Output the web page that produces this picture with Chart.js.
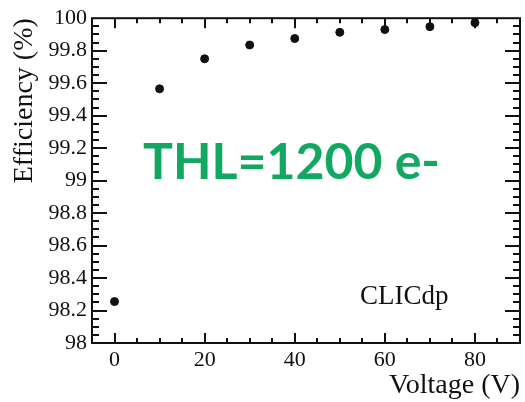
<!DOCTYPE html>
<html>
<head>
<meta charset="utf-8">
<script src="https://cdn.jsdelivr.net/npm/chart.js@4/dist/chart.umd.min.js"></script>
<style>
  html, body { margin: 0; padding: 0; background: #fff; }
  #wrap { width: 525px; height: 402px; }
</style>
</head>
<body>
<div id="wrap"><canvas id="chart" width="525" height="402"></canvas></div>
<script>
// data
const voltages = [0, 10, 20, 30, 40, 50, 60, 70, 80];
const efficiency = [98.255, 99.565, 99.75, 99.835, 99.875, 99.913, 99.93, 99.948, 99.972];
const xTicks = [0, 20, 40, 60, 80];
const yTicks = [98, 98.2, 98.4, 98.6, 98.8, 99, 99.2, 99.4, 99.6, 99.8, 100];
const yTickLabels = ['98', '98.2', '98.4', '98.6', '98.8', '99', '99.2', '99.4', '99.6', '99.8', '100'];

const ink = '#111';
const serif = "'Liberation Serif', 'DejaVu Serif', serif";
Chart.defaults.font.family = serif;
Chart.defaults.color = ink;

// frame with inward ticks on all four sides, plus the text labels
const framePlugin = {
  id: 'frame',
  afterDraw(chart) {
    const c = chart.ctx, a = chart.chartArea;
    const xs = chart.scales.x, ys = chart.scales.y;
    c.save();
    c.strokeStyle = ink;
    c.lineWidth = 2;
    c.strokeRect(a.left, a.top, a.right - a.left, a.bottom - a.top);
    c.beginPath();
    for (let v = -5; v <= 90; v += 5) {
      const px = Math.round(xs.getPixelForValue(v));
      if (px <= a.left + 1 || px >= a.right - 1) continue;
      const len = v % 20 === 0 ? 10 : 5;
      c.moveTo(px, a.bottom); c.lineTo(px, a.bottom - len);
      c.moveTo(px, a.top); c.lineTo(px, a.top + len);
    }
    for (let i = 1; i < 40; i++) {
      const v = 98 + i * 0.05;
      const py = Math.round(ys.getPixelForValue(v));
      const len = i % 4 === 0 ? 15 : 7;
      c.moveTo(a.left, py); c.lineTo(a.left + len, py);
      c.moveTo(a.right, py); c.lineTo(a.right - len, py);
    }
    c.stroke();

    c.fillStyle = '#12a862';
    c.font = "bold 50px Lato, 'Open Sans', sans-serif";
    c.textBaseline = 'alphabetic';
    c.textAlign = 'left';
    c.fillText('THL=1200 e-', 143, 179);

    c.fillStyle = ink;
    c.font = '27px ' + serif;
    c.fillText('CLICdp', 360, 304);
    c.restore();
  }
};

new Chart(document.getElementById('chart'), {
  type: 'scatter',
  data: {
    datasets: [{
      data: voltages.map((v, i) => ({ x: v, y: efficiency[i] })),
      backgroundColor: ink,
      borderColor: ink,
      pointRadius: 4,
      pointHoverRadius: 4
    }]
  },
  options: {
    responsive: false,
    animation: false,
    layout: { padding: { left: 0, right: 2, top: 17, bottom: 0 } },
    plugins: { legend: { display: false }, tooltip: { enabled: false } },
    scales: {
      x: {
        type: 'linear',
        min: -5,
        max: 90,
        afterBuildTicks: s => { s.ticks = xTicks.map(v => ({ value: v })); },
        afterFit: s => { s.height = 59; },
        grid: { display: false, drawTicks: false },
        border: { display: false },
        ticks: { color: ink, font: { family: serif, size: 22 }, padding: 4, maxRotation: 0 },
        title: {
          display: true, text: 'Voltage (V)', align: 'end', color: ink,
          font: { family: serif, size: 28 }, padding: { top: 0, bottom: 0 }
        }
      },
      y: {
        min: 98,
        max: 100,
        afterBuildTicks: s => { s.ticks = yTicks.map(v => ({ value: v })); },
        afterFit: s => { s.width = 92; },
        grid: { display: false, drawTicks: false },
        border: { display: false },
        ticks: {
          color: ink, font: { family: serif, size: 22 }, padding: 5,
          callback: (v, i) => yTickLabels[i]
        },
        title: {
          display: true, text: 'Efficiency (%)', align: 'end', color: ink,
          font: { family: serif, size: 28 }, padding: { top: 8, bottom: 0 }
        }
      }
    }
  },
  plugins: [framePlugin]
});
</script>
</body>
</html>
